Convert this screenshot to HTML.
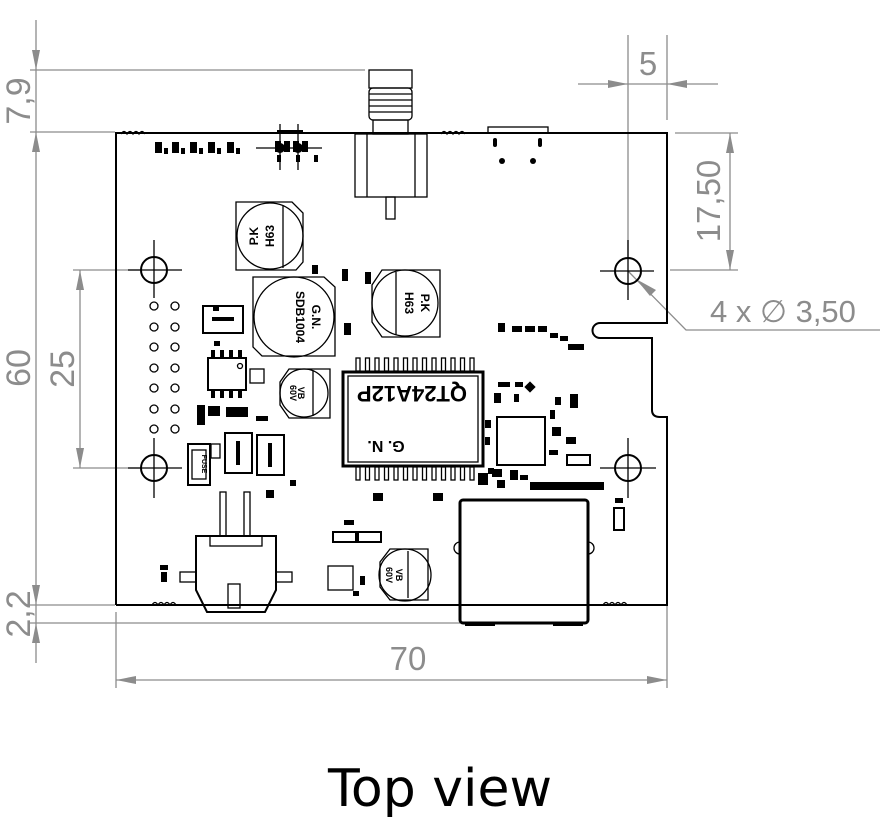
<!DOCTYPE html>
<html><head><meta charset="utf-8"><style>
html,body{margin:0;padding:0;background:#fff;}
svg{display:block;}
.b{fill:none;stroke:#000;stroke-width:2;}
.t{fill:none;stroke:#000;stroke-width:1.3;}
.f{fill:#000;}
.d{fill:none;stroke:#8c8c8c;stroke-width:1.3;}
.a{fill:#8c8c8c;}
.dt{fill:#8c8c8c;font-family:"Liberation Sans",sans-serif;}
.lb{font-family:"Liberation Sans",sans-serif;font-weight:bold;fill:#000;}
</style></head><body>
<svg width="882" height="837" viewBox="0 0 882 837" xmlns="http://www.w3.org/2000/svg">
<g>
<line class="d" x1="30" y1="70" x2="365" y2="70"/>
<line class="d" x1="30" y1="132" x2="115" y2="132"/>
<line class="d" x1="36" y1="20" x2="36" y2="663"/>
<polygon class="a" points="36,70 32,50 40,50"/>
<polygon class="a" points="36,132 32,152 40,152"/>
<polygon class="a" points="36,605 32,585 40,585"/>
<polygon class="a" points="36,623 32,643 40,643"/>
<line class="d" x1="30" y1="605" x2="115" y2="605"/>
<line class="d" x1="30" y1="623" x2="460" y2="623"/>
<text class="dt" font-size="34" transform="translate(30,101) rotate(-90)" text-anchor="middle">7,9</text>
<text class="dt" font-size="34" transform="translate(30,368) rotate(-90)" text-anchor="middle">60</text>
<text class="dt" font-size="34" transform="translate(30,614) rotate(-90)" text-anchor="middle">2,2</text>
<line class="d" x1="73" y1="270" x2="140" y2="270"/>
<line class="d" x1="73" y1="468" x2="140" y2="468"/>
<line class="d" x1="80" y1="270" x2="80" y2="468"/>
<polygon class="a" points="80,270 76,290 84,290"/>
<polygon class="a" points="80,468 76,448 84,448"/>
<text class="dt" font-size="34" transform="translate(74,369) rotate(-90)" text-anchor="middle">25</text>
<line class="d" x1="116" y1="612" x2="116" y2="688"/>
<line class="d" x1="667" y1="417" x2="667" y2="688"/>
<line class="d" x1="116" y1="680" x2="667" y2="680"/>
<polygon class="a" points="116,680 136,676 136,684"/>
<polygon class="a" points="667,680 647,676 647,684"/>
<text class="dt" font-size="33" x="408" y="670" text-anchor="middle">70</text>
<line class="d" x1="628" y1="35" x2="628" y2="258"/>
<line class="d" x1="667" y1="35" x2="667" y2="120"/>
<line class="d" x1="578" y1="84" x2="718" y2="84"/>
<polygon class="a" points="628,84 608,80 608,88"/>
<polygon class="a" points="667,84 687,80 687,88"/>
<text class="dt" font-size="33" x="648" y="75" text-anchor="middle">5</text>
<line class="d" x1="675" y1="133" x2="738" y2="133"/>
<line class="d" x1="670" y1="270" x2="738" y2="270"/>
<line class="d" x1="730" y1="133" x2="730" y2="270"/>
<polygon class="a" points="730,133 726,153 734,153"/>
<polygon class="a" points="730,270 726,250 734,250"/>
<text class="dt" font-size="33" transform="translate(720,201) rotate(-90)" text-anchor="middle">17,50</text>
<polyline class="d" points="628,271 686,330 880,330"/>
<polygon class="a" points="636,279 656,290 650,296"/>
<text class="dt" font-size="31" x="710" y="322">4 x ∅ 3,50</text>
</g>
<path class="b" d="M116,605 L116,133 L667,133 L667,323 L600,323 A7,7 0 0 0 600,338 L652,338 L652,410 Q652,417 660,417 L667,417 L667,605 L116,605"/>
<g>
<circle class="b" cx="154" cy="270" r="13"/><line class="t" x1="128" y1="270" x2="182" y2="270"/><line class="t" x1="154" y1="240" x2="154" y2="298"/>
<circle class="b" cx="628" cy="271" r="13"/><line class="t" x1="600" y1="271" x2="654" y2="271"/><line class="t" x1="628" y1="240" x2="628" y2="300"/>
<circle class="b" cx="154" cy="468" r="13"/><line class="t" x1="128" y1="468" x2="182" y2="468"/><line class="t" x1="154" y1="438" x2="154" y2="498"/>
<circle class="b" cx="628" cy="468" r="13"/><line class="t" x1="600" y1="468" x2="656" y2="468"/><line class="t" x1="628" y1="438" x2="628" y2="498"/>
</g>
<g class="t">
<circle cx="154" cy="306" r="4"/><circle cx="175" cy="306" r="4"/>
<circle cx="154" cy="327" r="4"/><circle cx="175" cy="327" r="4"/>
<circle cx="154" cy="347" r="4"/><circle cx="175" cy="347" r="4"/>
<circle cx="154" cy="368" r="4"/><circle cx="175" cy="368" r="4"/>
<circle cx="154" cy="388" r="4"/><circle cx="175" cy="388" r="4"/>
<circle cx="154" cy="409" r="4"/><circle cx="175" cy="409" r="4"/>
<circle cx="154" cy="429" r="4"/><circle cx="175" cy="429" r="4"/>
</g>
<path class="t" d="M121,134 q3,-5 6,0 q3,-5 6,0 q3,-5 6,0 q3,-5 6,0"/>
<path class="t" d="M441,134 q3,-5 6,0 q3,-5 6,0 q3,-5 6,0 q3,-5 6,0"/>
<path class="t" d="M152,605 q3,-5 6,0 q3,-5 6,0 q3,-5 6,0 q3,-5 6,0"/>
<path class="t" d="M603,605 q3,-5 6,0 q3,-5 6,0 q3,-5 6,0 q3,-5 6,0"/>
<g class="f">
<rect x="155" y="142" width="7" height="11"/><rect x="164" y="148" width="4" height="6"/>
<rect x="172" y="142" width="7" height="11"/><rect x="181" y="148" width="4" height="6"/>
<rect x="190" y="142" width="7" height="11"/><rect x="199" y="148" width="4" height="6"/>
<rect x="208" y="142" width="7" height="11"/><rect x="217" y="148" width="4" height="6"/>
<rect x="227" y="142" width="7" height="11"/><rect x="236" y="148" width="4" height="6"/>
<rect x="275" y="141" width="6" height="11"/><rect x="284" y="141" width="6" height="11"/><rect x="293" y="141" width="6" height="11"/><rect x="302" y="141" width="6" height="11"/>
<circle cx="280" cy="148" r="5"/><circle cx="298" cy="148" r="5"/>
<rect x="277" y="155" width="4" height="7"/><rect x="296" y="155" width="4" height="7"/><rect x="314" y="155" width="4" height="7"/>
<rect x="277" y="130" width="26" height="4"/>
</g>
<line class="t" x1="256" y1="148" x2="322" y2="148"/>
<line class="t" x1="280" y1="124" x2="280" y2="170"/><line class="t" x1="298" y1="124" x2="298" y2="170"/>
<rect class="t" x="369" y="70" width="43" height="18"/>
<rect class="t" x="369" y="88" width="43" height="32" rx="4"/>
<g class="t"><line x1="369" y1="94" x2="412" y2="94"/><line x1="369" y1="100" x2="412" y2="100"/><line x1="369" y1="106" x2="412" y2="106"/><line x1="369" y1="112" x2="412" y2="112"/></g>
<rect class="t" x="373" y="120" width="35" height="14"/>
<rect class="t" x="355" y="134" width="72" height="63"/>
<line class="t" x1="367" y1="134" x2="367" y2="197"/><line class="t" x1="415" y1="134" x2="415" y2="197"/>
<rect class="t" x="386" y="197" width="9" height="22"/>
<rect class="t" x="488" y="127" width="60" height="6"/>
<g class="f"><rect x="493" y="138" width="4" height="9" rx="2"/><rect x="538" y="138" width="4" height="9" rx="2"/><circle cx="502" cy="161" r="3"/><circle cx="533" cy="161" r="3"/></g>
<path class="t" d="M236,202 L292,202 L303,213 L303,262 L296,270 L236,270 Z"/>
<circle class="t" cx="270" cy="236" r="33"/><line class="t" x1="283" y1="205" x2="283" y2="268"/>
<text class="lb" font-size="12" transform="translate(258,236) rotate(-90)" text-anchor="middle">P.K</text>
<text class="lb" font-size="12" transform="translate(274,236) rotate(-90)" text-anchor="middle">H63</text>
<path class="t" d="M253,277 L324,277 L335,287 L335,356 L262,356 L253,347 Z"/>
<circle class="t" cx="294" cy="317" r="40"/>
<text class="lb" font-size="12" transform="translate(296,317) rotate(90)" text-anchor="middle">SDB1004</text>
<text class="lb" font-size="12" transform="translate(312,317) rotate(90)" text-anchor="middle">G.N.</text>
<path class="t" d="M382,270 L440,270 L440,337 L382,337 L372,322 L372,285 Z"/>
<circle class="t" cx="405" cy="303" r="33"/><line class="t" x1="396" y1="272" x2="396" y2="335"/>
<text class="lb" font-size="12" transform="translate(405,303) rotate(90)" text-anchor="middle">H63</text>
<text class="lb" font-size="12" transform="translate(421,303) rotate(90)" text-anchor="middle">P.K</text>
<path class="t" d="M289,369 L330,369 L330,418 L289,418 L280,405 L280,382 Z"/>
<circle class="t" cx="304" cy="393" r="24"/><line class="t" x1="313" y1="371" x2="313" y2="416"/>
<text class="lb" font-size="9" transform="translate(298,393) rotate(90)" text-anchor="middle">VB</text>
<text class="lb" font-size="9" transform="translate(290,393) rotate(90)" text-anchor="middle">60V</text>
<path class="t" d="M390,549 L428,549 L428,600 L390,600 L380,587 L380,562 Z"/>
<circle class="t" cx="405" cy="575" r="26"/><line class="t" x1="408" y1="551" x2="408" y2="598"/>
<text class="lb" font-size="9" transform="translate(396,575) rotate(90)" text-anchor="middle">VB</text>
<text class="lb" font-size="9" transform="translate(386,575) rotate(90)" text-anchor="middle">60V</text>
<rect x="343" y="372" width="140" height="94" fill="none" stroke="#000" stroke-width="3"/>
<rect class="t" x="348" y="376" width="130" height="86"/>
<text class="lb" font-size="22" transform="translate(412,386) rotate(180)" text-anchor="middle">QT24A12P</text>
<text class="lb" font-size="16" transform="translate(386,441) rotate(180)" text-anchor="middle">G. N.</text>
<g class="t">
<rect x="356" y="358" width="4" height="13"/><rect x="365.5" y="358" width="4" height="13"/><rect x="375" y="358" width="4" height="13"/><rect x="384.5" y="358" width="4" height="13"/><rect x="394" y="358" width="4" height="13"/><rect x="403.5" y="358" width="4" height="13"/><rect x="413" y="358" width="4" height="13"/><rect x="422.5" y="358" width="4" height="13"/><rect x="432" y="358" width="4" height="13"/><rect x="441.5" y="358" width="4" height="13"/><rect x="451" y="358" width="4" height="13"/><rect x="460.5" y="358" width="4" height="13"/><rect x="470" y="358" width="4" height="13"/>
<rect x="356" y="467" width="4" height="13"/><rect x="365.5" y="467" width="4" height="13"/><rect x="375" y="467" width="4" height="13"/><rect x="384.5" y="467" width="4" height="13"/><rect x="394" y="467" width="4" height="13"/><rect x="403.5" y="467" width="4" height="13"/><rect x="413" y="467" width="4" height="13"/><rect x="422.5" y="467" width="4" height="13"/><rect x="432" y="467" width="4" height="13"/><rect x="441.5" y="467" width="4" height="13"/><rect x="451" y="467" width="4" height="13"/><rect x="460.5" y="467" width="4" height="13"/><rect x="470" y="467" width="4" height="13"/>
</g>
<rect class="b" x="497" y="417" width="48" height="48"/>
<g class="f">
<rect x="498" y="323" width="7" height="9"/><rect x="512" y="326" width="10" height="6"/><rect x="525" y="326" width="10" height="6"/><rect x="538" y="326" width="9" height="6"/><rect x="550" y="333" width="8" height="5"/><rect x="560" y="336" width="8" height="5"/><rect x="568" y="344" width="16" height="6"/>
<rect x="312" y="265" width="6" height="9"/><rect x="342" y="269" width="6" height="12"/><rect x="365" y="272" width="6" height="12"/><rect x="344" y="323" width="7" height="12"/>
<rect x="498" y="382" width="12" height="5"/><rect x="515" y="382" width="8" height="5"/><rect x="494" y="393" width="7" height="10"/><rect x="514" y="394" width="5" height="8"/><rect x="526" y="383" width="8" height="8" transform="rotate(45 530 387)"/>
<rect x="555" y="397" width="6" height="8"/><rect x="570" y="394" width="8" height="14"/><rect x="550" y="410" width="5" height="9"/><rect x="552" y="427" width="9" height="9"/><rect x="566" y="437" width="10" height="7"/><rect x="549" y="450" width="9" height="5"/>
<rect x="485" y="420" width="6" height="8"/><rect x="485" y="437" width="5" height="8"/><rect x="488" y="468" width="6" height="6"/><rect x="478" y="473" width="10" height="12"/><rect x="492" y="469" width="10" height="8"/><rect x="497" y="480" width="8" height="8"/><rect x="510" y="470" width="8" height="10"/><rect x="520" y="475" width="8" height="5"/>
<rect x="530" y="482" width="74" height="8"/>
<rect x="373" y="493" width="10" height="8"/><rect x="433" y="493" width="10" height="8"/>
<rect x="344" y="520" width="10" height="5"/><rect x="353" y="591" width="6" height="5"/><rect x="360" y="576" width="5" height="9"/>
<rect x="160" y="565" width="8" height="5"/><rect x="161" y="572" width="6" height="10"/>
<rect x="197" y="405" width="8" height="20"/><rect x="208" y="406" width="12" height="10"/><rect x="226" y="407" width="22" height="10"/>
<rect x="213" y="307" width="6" height="4"/><rect x="214" y="341" width="6" height="5"/>
<rect x="256" y="416" width="12" height="5"/>
<rect x="615" y="498" width="8" height="5"/><rect x="266" y="490" width="8" height="8"/><rect x="290" y="480" width="6" height="6"/>
</g>
<rect class="b" x="208" y="358" width="38" height="32"/><circle class="t" cx="240" cy="366" r="2.5"/>
<g class="f"><rect x="211" y="350" width="4" height="7"/><rect x="220" y="350" width="4" height="7"/><rect x="229" y="350" width="4" height="7"/><rect x="238" y="350" width="4" height="7"/>
<rect x="211" y="391" width="4" height="7"/><rect x="220" y="391" width="4" height="7"/><rect x="229" y="391" width="4" height="7"/><rect x="238" y="391" width="4" height="7"/></g>
<rect class="t" x="250" y="369" width="14" height="14"/>
<rect class="b" x="203" y="306" width="40" height="27"/>
<rect x="212" y="317" width="22" height="4" fill="#000"/>
<rect class="b" x="188" y="444" width="22" height="41"/><rect class="t" x="192" y="450" width="14" height="29"/>
<text class="lb" font-size="7" transform="translate(202,464) rotate(90)" text-anchor="middle">FUSE</text>
<rect class="t" x="211" y="444" width="9" height="14"/>
<rect class="b" x="225" y="433" width="27" height="40"/><rect x="236" y="441" width="4" height="24" fill="#000"/>
<rect class="b" x="257" y="435" width="27" height="40"/><rect x="268" y="443" width="4" height="24" fill="#000"/>
<path class="b" d="M196,536 L276,536 L276,590 L265,612 L207,612 L196,590 Z"/>
<rect class="t" x="210" y="536" width="52" height="10"/>
<rect class="t" x="220" y="492" width="6" height="44"/><rect class="t" x="244" y="492" width="6" height="44"/>
<rect class="t" x="180" y="572" width="16" height="10"/><rect class="t" x="276" y="572" width="16" height="10"/>
<rect class="t" x="228" y="584" width="12" height="24"/>
<rect class="b" x="333" y="532" width="23" height="10"/><rect class="b" x="358" y="532" width="23" height="10"/>
<rect class="b" x="567" y="455" width="23" height="10"/>
<rect class="b" x="614" y="508" width="10" height="22"/>
<rect class="t" x="328" y="566" width="25" height="24"/>
<rect x="460" y="500" width="128" height="123" rx="3" fill="none" stroke="#000" stroke-width="3"/>
<path class="t" d="M460,542 a6,6 0 0 0 0,12 M588,542 a6,6 0 0 1 0,12"/>
<rect x="465" y="622" width="30" height="4" fill="#000"/><rect x="553" y="622" width="30" height="4" fill="#000"/>
<text x="440" y="806" font-family="'DejaVu Sans','Liberation Sans',sans-serif" font-size="52" text-anchor="middle" fill="#000">Top view</text>
</svg>
</body></html>
